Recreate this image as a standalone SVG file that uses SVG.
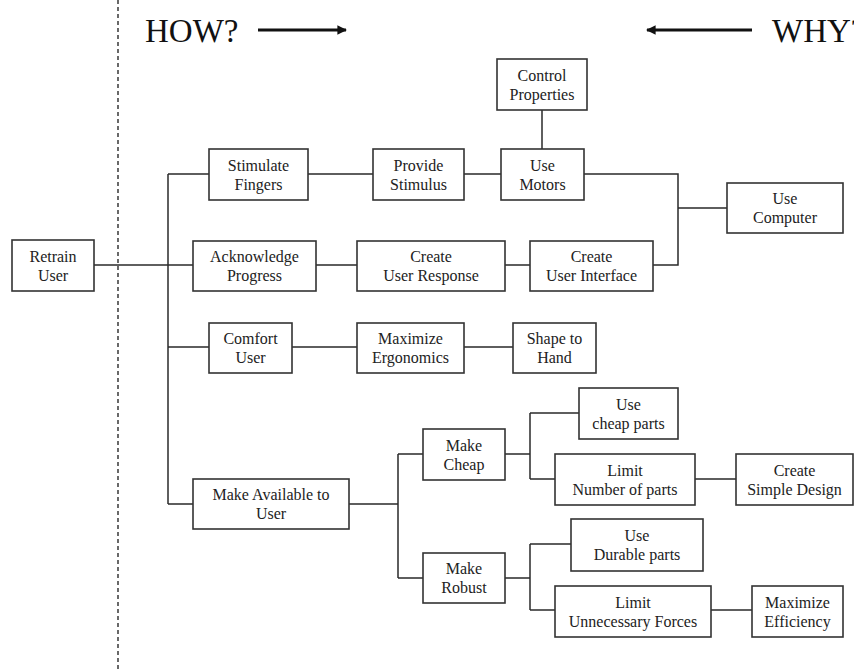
<svg xmlns="http://www.w3.org/2000/svg" width="854" height="671" viewBox="0 0 854 671">
<defs>
<style>
.bx{fill:#fff;stroke:#333;stroke-width:1.6}
.t{font-family:"Liberation Serif","Times New Roman",serif;font-size:16px;fill:#222;text-anchor:middle}
.big{font-family:"Liberation Serif","Times New Roman",serif;font-size:33px;fill:#111}
.c{fill:none;stroke:#2a2a2a;stroke-width:1.5}
.ar{stroke:#111;stroke-width:3;fill:none}
</style>
<marker id="ah" viewBox="0 0 10 10" refX="9" refY="5" markerWidth="3.2" markerHeight="3.2" orient="auto-start-reverse" markerUnits="strokeWidth">
<path d="M0,0 L10,5 L0,10 Z" fill="#111"/>
</marker>
</defs>
<rect width="854" height="671" fill="#fff"/>
<line x1="118" y1="0" x2="118" y2="671" stroke="#444" stroke-width="1.6" stroke-dasharray="4 3"/>
<g id="header">
<text class="big" x="145" y="42">HOW?</text>
<line class="ar" x1="258" y1="30" x2="346" y2="30" marker-end="url(#ah)"/>
<line class="ar" x1="752" y1="30" x2="647" y2="30" marker-end="url(#ah)"/>
<text class="big" x="772" y="42">WHY?</text>
</g>
<g id="connectors">
<path class="c" d="M94,265H193"/>
<path class="c" d="M168,174V504"/>
<path class="c" d="M168,174H209M168,347H209M168,504H193"/>
<path class="c" d="M308,174H373M464,174H501"/>
<path class="c" d="M542,110V149"/>
<path class="c" d="M584,174H678V265H653M678,208H727"/>
<path class="c" d="M316,265H357M505,265H530"/>
<path class="c" d="M292,347H357M464,347H513"/>
<path class="c" d="M349,504H398M398,454V578M398,454H423M398,578H423"/>
<path class="c" d="M505,454H530M530,413V479M530,413H579M530,479H555M695,479H736"/>
<path class="c" d="M505,578H530M530,544V610M530,544H571M530,610H555M711,610H752"/>
</g>
<g id="retrain-user"><rect class="bx" x="12" y="240" width="82" height="51"/><text class="t" x="53" y="262">Retrain</text><text class="t" x="53" y="281">User</text></g>
<g id="stimulate-fingers"><rect class="bx" x="209" y="149" width="99" height="51"/><text class="t" x="258.5" y="171">Stimulate</text><text class="t" x="258.5" y="190">Fingers</text></g>
<g id="provide-stimulus"><rect class="bx" x="373" y="149" width="91" height="51"/><text class="t" x="418.5" y="171">Provide</text><text class="t" x="418.5" y="190">Stimulus</text></g>
<g id="use-motors"><rect class="bx" x="501" y="149" width="83" height="51"/><text class="t" x="542.5" y="171">Use</text><text class="t" x="542.5" y="190">Motors</text></g>
<g id="control-properties"><rect class="bx" x="497" y="59" width="90" height="51"/><text class="t" x="542" y="81">Control</text><text class="t" x="542" y="100">Properties</text></g>
<g id="use-computer"><rect class="bx" x="727" y="183" width="116" height="50"/><text class="t" x="785" y="204">Use</text><text class="t" x="785" y="223">Computer</text></g>
<g id="acknowledge-progress"><rect class="bx" x="193" y="241" width="123" height="50"/><text class="t" x="254.5" y="262">Acknowledge</text><text class="t" x="254.5" y="281">Progress</text></g>
<g id="create-user-response"><rect class="bx" x="357" y="241" width="148" height="50"/><text class="t" x="431" y="262">Create</text><text class="t" x="431" y="281">User Response</text></g>
<g id="create-user-interface"><rect class="bx" x="530" y="241" width="123" height="50"/><text class="t" x="591.5" y="262">Create</text><text class="t" x="591.5" y="281">User Interface</text></g>
<g id="comfort-user"><rect class="bx" x="209" y="323" width="83" height="50"/><text class="t" x="250.5" y="344">Comfort</text><text class="t" x="250.5" y="363">User</text></g>
<g id="maximize-ergonomics"><rect class="bx" x="357" y="323" width="107" height="50"/><text class="t" x="410.5" y="344">Maximize</text><text class="t" x="410.5" y="363">Ergonomics</text></g>
<g id="shape-to-hand"><rect class="bx" x="513" y="323" width="83" height="50"/><text class="t" x="554.5" y="344">Shape to</text><text class="t" x="554.5" y="363">Hand</text></g>
<g id="make-available"><rect class="bx" x="193" y="479" width="156" height="50"/><text class="t" x="271" y="500">Make Available to</text><text class="t" x="271" y="519">User</text></g>
<g id="make-cheap"><rect class="bx" x="423" y="429" width="82" height="51"/><text class="t" x="464" y="451">Make</text><text class="t" x="464" y="470">Cheap</text></g>
<g id="make-robust"><rect class="bx" x="423" y="553" width="82" height="50"/><text class="t" x="464" y="574">Make</text><text class="t" x="464" y="593">Robust</text></g>
<g id="use-cheap-parts"><rect class="bx" x="579" y="388" width="99" height="51"/><text class="t" x="628.5" y="410">Use</text><text class="t" x="628.5" y="429">cheap parts</text></g>
<g id="limit-number"><rect class="bx" x="555" y="454" width="140" height="51"/><text class="t" x="625" y="476">Limit</text><text class="t" x="625" y="495">Number of parts</text></g>
<g id="create-simple-design"><rect class="bx" x="736" y="454" width="117" height="51"/><text class="t" x="794.5" y="476">Create</text><text class="t" x="794.5" y="495">Simple Design</text></g>
<g id="use-durable-parts"><rect class="bx" x="571" y="519" width="132" height="52"/><text class="t" x="637" y="541">Use</text><text class="t" x="637" y="560">Durable parts</text></g>
<g id="limit-unnecessary"><rect class="bx" x="555" y="586" width="156" height="51"/><text class="t" x="633" y="608">Limit</text><text class="t" x="633" y="627">Unnecessary Forces</text></g>
<g id="maximize-efficiency"><rect class="bx" x="752" y="586" width="91" height="51"/><text class="t" x="797.5" y="608">Maximize</text><text class="t" x="797.5" y="627">Efficiency</text></g>
</svg>
